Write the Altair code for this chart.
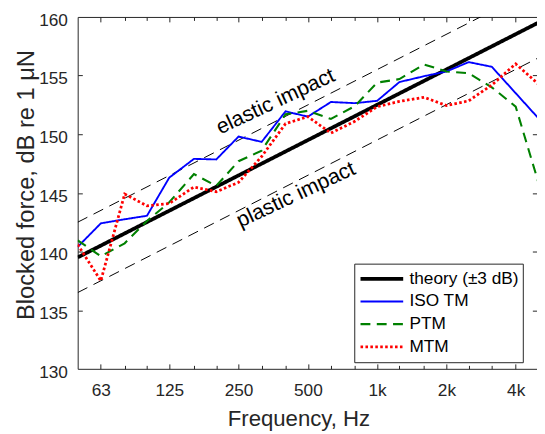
import altair as alt
import pandas as pd

# ---------------- data ----------------
FREQ = [50, 63, 80, 100, 125, 160, 200, 250, 315, 400, 500, 630, 800,
        1000, 1250, 1600, 2000, 2500, 3150, 4000, 5000]
ISO_TM = [140.4, 142.4, 142.75, 143.05, 146.3, 147.9, 147.85, 149.8, 149.35,
          151.95, 151.5, 152.75, 152.65, 152.85, 154.45, 154.95, 155.35,
          156.15, 155.75, 153.5, 151.4]
PTM = [140.95, 139.6, 140.7, 142.6, 144.2, 146.6, 145.6, 147.7, 148.6, 151.7,
       152.0, 151.3, 152.4, 154.4, 154.7, 155.95, 155.35, 155.2, 154.0,
       152.35, 146.0]
MTM = [140.6, 137.5, 144.9, 143.9, 144.1, 145.5, 145.1, 145.9, 148.1, 150.9,
       151.5, 150.1, 151.1, 152.35, 152.8, 153.15, 152.45, 152.85, 154.2,
       156.0, 154.3]
THEORY_FREQ = [50, 5000]
THEORY = [139.5, 159.5]
UPPER = [142.5, 162.5]
LOWER = [136.5, 156.5]

SERIES = ["theory (\u00b13 dB)", "ISO TM", "PTM", "MTM"]
COLORS = ["#000000", "#0000ff", "#008000", "#ff0000"]
DASHES = [[1, 0], [1, 0], [10, 6.5], [2.6, 2.4]]
WIDTHS = [3.8, 1.9, 2.1, 2.8]

MAJOR_X = [63, 125, 250, 500, 1000, 2000, 4000]
ALL_X = [63, 80, 100, 125, 160, 200, 250, 315, 400, 500, 630, 800, 1000,
         1250, 1600, 2000, 2500, 3150, 4000]
Y_TICKS = [130, 135, 140, 145, 150, 155, 160]

ANN_LABEL = ["elastic impact", "plastic impact"]
ANN_F = [372, 456]
ANN_V = [152.3, 144.35]

# ---------------- style ----------------
FONT = "Liberation Sans"
TXT = "#262626"
W, H = 466, 357
XDOM = [50, 4950]
YDOM = [130, 160]


def xscale():
    return alt.Scale(type="log", domain=XDOM, nice=False)


def yscale():
    return alt.Scale(type="linear", domain=YDOM, nice=False, zero=False)


rows = []
for name, fs, vs in [(SERIES[0], THEORY_FREQ, THEORY), (SERIES[1], FREQ, ISO_TM),
                     (SERIES[2], FREQ, PTM), (SERIES[3], FREQ, MTM)]:
    for f, v in zip(fs, vs):
        rows.append({"series": name, "f": f, "v": v})
df = pd.DataFrame(rows)
df_up = pd.DataFrame({"f": THEORY_FREQ, "v": UPPER})
df_lo = pd.DataFrame({"f": THEORY_FREQ, "v": LOWER})
df_ann = pd.DataFrame({"f": ANN_F, "v": ANN_V, "label": ANN_LABEL})

major_test = "indexof([" + ",".join(str(v) for v in MAJOR_X) + "], datum.value) >= 0"
x_tick_size = {"condition": {"test": major_test, "value": 5}, "value": 3.5}

# upper dashed bound: carries inward ticks at bottom and left
upper = alt.Chart(df_up).mark_line(clip=True, color="black", strokeWidth=1,
                                   strokeDash=[11, 7]).encode(
    x=alt.X("f:Q", scale=xscale(), axis=alt.Axis(
        orient="top", offset=-H, values=ALL_X, labels=False, domain=False,
        grid=False, tickSize=x_tick_size, tickColor=TXT, tickWidth=1, title="")),
    y=alt.Y("v:Q", scale=yscale(), axis=alt.Axis(
        orient="right", offset=-W, values=Y_TICKS[1:-1], labels=False,
        domain=False, grid=False, tickSize=4.7, tickColor=TXT, tickWidth=1,
        title="")),
)

# lower dashed bound: carries inward ticks at top and right + top frame line
lower = alt.Chart(df_lo).mark_line(clip=True, color="black", strokeWidth=1,
                                   strokeDash=[11, 7]).encode(
    x=alt.X("f:Q", scale=xscale(), axis=alt.Axis(
        orient="bottom", offset=-H, values=ALL_X, labels=False, domain=True,
        domainColor=TXT, domainWidth=1, grid=False, tickSize=x_tick_size,
        tickColor=TXT, tickWidth=1, title="")),
    y=alt.Y("v:Q", scale=yscale(), axis=alt.Axis(
        orient="left", offset=-W, values=Y_TICKS[1:-1], labels=False,
        domain=False, grid=False, tickSize=4.7, tickColor=TXT, tickWidth=1,
        title="")),
)

leg = alt.Legend(
    title=None, orient="none", legendX=280.6, legendY=250.3,
    symbolType="stroke", symbolSize=1875, clipHeight=22.7, rowPadding=0,
    padding=4, labelFont=FONT, labelFontSize=17.5, labelColor="#000000",
    labelOffset=4, fillColor="white", strokeColor=TXT, symbolOffset=0,
)

main = alt.Chart(df).mark_line(clip=True).encode(
    x=alt.X("f:Q", scale=xscale(), axis=alt.Axis(
        orient="bottom", values=MAJOR_X, ticks=False, tickSize=0,
        labelExpr="datum.value >= 1000 ? format(datum.value/1000, 'd') + 'k' : format(datum.value, 'd')",
        labelPadding=13, labelFont=FONT, labelFontSize=17.5, labelColor=TXT,
        labelFlush=False, labelOverlap=False, domainColor=TXT, domainWidth=1,
        grid=False, title="Frequency, Hz", titleFont=FONT, titleFontSize=22.5,
        titleFontWeight="normal", titleColor=TXT, titleX=224, titleY=57.3,
        titleBaseline="alphabetic", titleAlign="center")),
    y=alt.Y("v:Q", scale=yscale(), axis=alt.Axis(
        orient="left", values=Y_TICKS, ticks=False, tickSize=0, labelPadding=10.4,
        labelOffset=3.5,
        labelFont=FONT, labelFontSize=17.5, labelColor=TXT, labelOverlap=False,
        domainColor=TXT, domainWidth=1, grid=False,
        title="Blocked force, dB re 1 \u03bcN", titleFont=FONT, titleFontSize=24,
        titleFontWeight="normal", titleColor=TXT, titleX=-45, titleY=170,
        titleAngle=270, titleBaseline="alphabetic", titleAlign="center")),
    color=alt.Color("series:N", scale=alt.Scale(domain=SERIES, range=COLORS), legend=leg),
    strokeDash=alt.StrokeDash("series:N", scale=alt.Scale(type="ordinal", domain=SERIES, range=DASHES), legend=leg),
    strokeWidth=alt.StrokeWidth("series:N", scale=alt.Scale(type="ordinal", domain=SERIES, range=WIDTHS), legend=leg),
)

ann = alt.Chart(df_ann).mark_text(
    font=FONT, fontSize=21.5, color="#000000", angle=335, align="center",
    baseline="alphabetic").encode(
    x=alt.X("f:Q", scale=xscale(), axis=None),
    y=alt.Y("v:Q", scale=yscale(), axis=None),
    text="label:N",
)

chart = alt.layer(upper, lower, main, ann).resolve_scale(
    x="independent", y="independent"
).properties(
    width=W, height=H,
    autosize=alt.AutoSizeParams(type="none"),
    padding={"left": 70.7, "top": 6, "right": 0, "bottom": 60},
    background="white",
).configure_view(stroke=None)

chart.save("out.html", embed_options={"renderer": "svg", "actions": False})
